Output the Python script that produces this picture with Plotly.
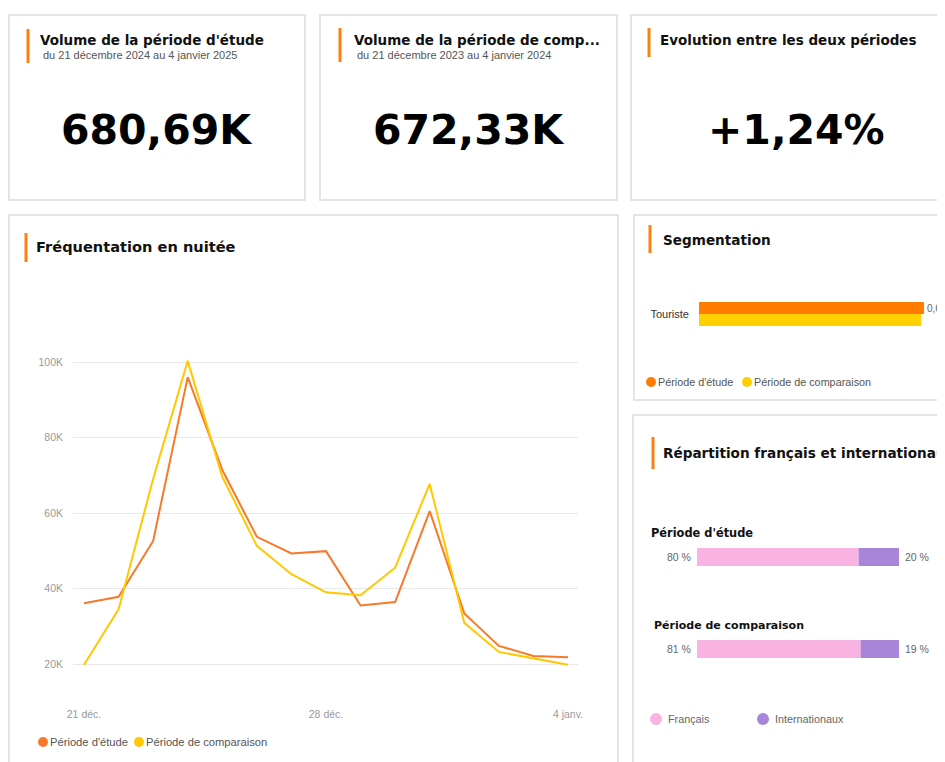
import plotly.graph_objects as go

# ---------------- DATA ----------------
dates = ["21 déc.", "22 déc.", "23 déc.", "24 déc.", "25 déc.", "26 déc.", "27 déc.",
         "28 déc.", "29 déc.", "30 déc.", "31 déc.", "1 janv.", "2 janv.", "3 janv.", "4 janv."]
etude = [36100, 37800, 52600, 96000, 71400, 53700, 49300, 49900, 35500, 36400,
         60500, 33400, 24800, 22100, 21800]
comparaison = [19800, 34500, 69000, 100300, 69600, 51300, 43800, 39000, 38200, 45500,
               67700, 30900, 23200, 21500, 19800]
x_tick_labels = ["21 déc.", "28 déc.", "4 janv."]
y_tick_values = [20000, 40000, 60000, 80000, 100000]
y_tick_labels = ["20K", "40K", "60K", "80K", "100K"]

kpi_titles = ["Volume de la période d'étude", "Volume de la période de comp...",
              "Evolution entre les deux périodes"]
kpi_subtitles = ["du 21 décembre 2024 au 4 janvier 2025",
                 "du 21 décembre 2023 au 4 janvier 2024", ""]
kpi_values = ["680,69K", "672,33K", "+1,24%"]

seg_categories = ["Touriste"]
seg_etude = [680690]
seg_comparaison = [672330]

rep_periods = ["Période d'étude", "Période de comparaison"]
rep_francais = [80, 81]
rep_internationaux = [20, 19]

series_names = ["Période d'étude", "Période de comparaison"]
rep_names = ["Français", "Internationaux"]

# ---------------- STYLE ----------------
OFF = 8                      # page margin compensation
W, H = 945, 762
ORANGE = "#F7792A"
YELLOW = "#FFC800"
BAR_ORANGE = "#FF7C00"
BAR_YELLOW = "#FFCF00"
PINK = "#F9B3E3"
PURPLE = "#A985D8"
ACCENT = "#FF7F0E"
TITLE_FONT = "DejaVu Sans"
BODY_FONT = "Liberation Sans, Arial, sans-serif"


def px(x):
    return (x - OFF) / W


def py(y):
    return 1 - (y - OFF) / H


fig = go.Figure()

# ---- Line chart ----
xi = list(range(len(dates)))
fig.add_trace(go.Scatter(x=xi, y=etude, mode="lines", name=series_names[0],
                         line=dict(color=ORANGE, width=2), xaxis="x", yaxis="y",
                         showlegend=False))
fig.add_trace(go.Scatter(x=xi, y=comparaison, mode="lines", name=series_names[1],
                         line=dict(color=YELLOW, width=2), xaxis="x", yaxis="y",
                         showlegend=False))

# ---- Segmentation bars ----
fig.add_trace(go.Bar(y=seg_categories, x=seg_comparaison, orientation="h",
                     marker=dict(color=BAR_YELLOW, line=dict(width=0)),
                     name=series_names[1], xaxis="x2", yaxis="y2", showlegend=False))
fig.add_trace(go.Bar(y=seg_categories, x=seg_etude, orientation="h",
                     marker=dict(color=BAR_ORANGE, line=dict(width=0)),
                     name=series_names[0], xaxis="x2", yaxis="y2", showlegend=False,
                     text=[f"{v/1e6:.2f}M".replace(".", ",") for v in seg_etude],
                     textposition="outside", cliponaxis=False,
                     textfont=dict(size=10, color="#666666", family=BODY_FONT)))

# ---- Répartition stacked bars ----
rep_y = [1, 0]
fig.add_trace(go.Bar(y=rep_y, x=rep_francais, orientation="h", width=0.196, offset=-0.098,
                     marker=dict(color=PINK, line=dict(width=0)), name=rep_names[0],
                     xaxis="x3", yaxis="y3", showlegend=False))
fig.add_trace(go.Bar(y=rep_y, x=rep_internationaux, base=rep_francais, orientation="h",
                     width=0.196, offset=-0.098,
                     marker=dict(color=PURPLE, line=dict(width=0)), name=rep_names[1],
                     xaxis="x3", yaxis="y3", showlegend=False))

shapes = []
annotations = []

# cards
cards = [(9, 15, 305, 200), (320, 15, 617, 200), (631, 15, 975, 200),
         (9, 215, 618, 785), (634, 215, 975, 400), (633, 415, 975, 785)]
for x0, y0, x1, y1 in cards:
    shapes.append(dict(type="rect", xref="paper", yref="paper", x0=px(x0), x1=px(x1),
                       y0=py(y1), y1=py(y0), line=dict(color="#E4E4E4", width=2),
                       fillcolor="white", layer="below"))

# accent bars
accents = [(28, 29, 63), (340, 28, 62), (649, 28, 57), (26, 233, 262), (650, 225, 253),
           (653, 437, 469)]
for x, y0, y1 in accents:
    shapes.append(dict(type="line", xref="paper", yref="paper", x0=px(x), x1=px(x),
                       y0=py(y1), y1=py(y0), line=dict(color=ACCENT, width=3)))


def text(x, y, s, size, color="#000000", family=BODY_FONT, anchor="left"):
    annotations.append(dict(xref="paper", yref="paper", x=px(x), y=py(y), text=s,
                            showarrow=False, xanchor=anchor, yanchor="middle",
                            font=dict(size=size, color=color, family=family),
                            align=anchor if anchor != "center" else "center"))


# KPI cards
kpi_title_x = [38, 352, 658]
kpi_sub_x = [41, 355, 0]
kpi_centers = [157, 469, 796]
for i in range(3):
    text(kpi_title_x[i], 40, f"<b>{kpi_titles[i]}</b>", 13.5, "#111111", TITLE_FONT)
    if kpi_subtitles[i]:
        text(kpi_sub_x[i], 55, kpi_subtitles[i], 11, "#555555")
    text(kpi_centers[i], 130, f"<b>{kpi_values[i]}</b>", 41, "#000000", TITLE_FONT, "center")

# section titles
text(34, 246, "<b>Fréquentation en nuitée</b>", 14.6, "#111111", TITLE_FONT)
text(661, 240, "<b>Segmentation</b>", 13.6, "#111111", TITLE_FONT)
text(661, 453, "<b>Répartition français et internationaux</b>", 13.6, "#111111", TITLE_FONT)

# line chart legend
legend_items = [(43, ORANGE, series_names[0]), (139, YELLOW, series_names[1])]
for cx, col, name in legend_items:
    shapes.append(dict(type="circle", xref="paper", yref="paper", x0=px(cx - 5), x1=px(cx + 5),
                       y0=py(742 + 5), y1=py(742 - 5), fillcolor=col, line=dict(width=0)))
    text(cx + 5, 742, name, 11.2, "#555555")

# segmentation legend
seg_legend = [(651, BAR_ORANGE, series_names[0]), (747, BAR_YELLOW, series_names[1])]
for cx, col, name in seg_legend:
    shapes.append(dict(type="circle", xref="paper", yref="paper", x0=px(cx - 5), x1=px(cx + 5),
                       y0=py(382 + 5), y1=py(382 - 5), fillcolor=col, line=dict(width=0)))
    text(cx + 5, 382, name, 10.8, "#555555")

# répartition period headers
text(649, 533, f"<b>{rep_periods[0]}</b>", 11.4, "#111111", TITLE_FONT)
text(652, 625, f"<b>{rep_periods[1]}</b>", 11, "#111111", TITLE_FONT)

# répartition percentage labels
for yv, fr, it in zip(rep_y, rep_francais, rep_internationaux):
    annotations.append(dict(xref="x3", yref="y3", x=0, y=yv, text=f"{fr} %", showarrow=False,
                            xanchor="right", xshift=-4, font=dict(size=10.5, color="#666666",
                                                                   family=BODY_FONT)))
    annotations.append(dict(xref="x3", yref="y3", x=fr + it, y=yv, text=f"{it} %",
                            showarrow=False, xanchor="left", xshift=4,
                            font=dict(size=10.5, color="#666666", family=BODY_FONT)))

# répartition legend
rep_legend = [(656, PINK, rep_names[0]), (763, PURPLE, rep_names[1])]
for cx, col, name in rep_legend:
    shapes.append(dict(type="circle", xref="paper", yref="paper", x0=px(cx - 6), x1=px(cx + 6),
                       y0=py(719 + 6), y1=py(719 - 6), fillcolor=col, line=dict(width=0)))
    text(cx + 10, 719, name, 10.8, "#666666")

# y range for line chart: 100K at py 362, 20K at py 664
pix_per = (664 - 362) / 80000
y_top, y_bot = 300, 690
y_max = 20000 + (664 - y_top) / pix_per
y_min = 20000 - (y_bot - 664) / pix_per

# x range: index 0 at 84 px, 14 at 568 px
step = (568 - 84) / (len(dates) - 1)
x_lo = -(84 - 73) / step
x_hi = (len(dates) - 1) + (578 - 568) / step

seg_right = OFF + W
seg_max = seg_etude[0] * (seg_right - 699) / (924 - 699)

fig.update_layout(
    width=W, height=H,
    margin=dict(l=0, r=0, t=0, b=0),
    paper_bgcolor="white", plot_bgcolor="rgba(0,0,0,0)",
    font=dict(family=BODY_FONT, color="#555555"),
    showlegend=False,
    barmode="group", bargap=0.5, bargroupgap=0,
    hovermode=False,
    shapes=shapes, annotations=annotations,
    xaxis=dict(domain=[px(73), px(578)], range=[x_lo, x_hi], showgrid=False, zeroline=False,
               showline=False, tickmode="array", tickvals=[dates.index(t) for t in x_tick_labels],
               ticktext=x_tick_labels, ticks="", ticklabelstandoff=16,
               tickfont=dict(size=10.5, color="#999999"), anchor="y", fixedrange=True,
               automargin=False),
    yaxis=dict(domain=[max(0, py(y_bot)), py(y_top)], range=[y_min, y_max], showgrid=True,
               gridcolor="#E8E8E8", gridwidth=1, zeroline=False, showline=False,
               tickmode="array", tickvals=y_tick_values, ticktext=y_tick_labels, ticks="",
               ticklabelstandoff=9, tickfont=dict(size=10.5, color="#999999"), anchor="x",
               fixedrange=True, automargin=False),
    xaxis2=dict(domain=[px(699), 1], range=[0, seg_max], visible=False, anchor="y2",
                fixedrange=True, automargin=False),
    yaxis2=dict(domain=[py(338), py(290)], showgrid=False, zeroline=False, showline=False,
                ticks="", ticklabelstandoff=9, tickfont=dict(size=11, color="#333333"),
                anchor="x2", fixedrange=True, automargin=False),
    xaxis3=dict(domain=[px(697), px(899)], range=[0, 100], visible=False, anchor="y3",
                fixedrange=True, automargin=False),
    yaxis3=dict(domain=[py(695), py(511)], range=[-0.5, 1.5], visible=False, anchor="x3",
                fixedrange=True, automargin=False),
)

fig.write_html("out.html")
